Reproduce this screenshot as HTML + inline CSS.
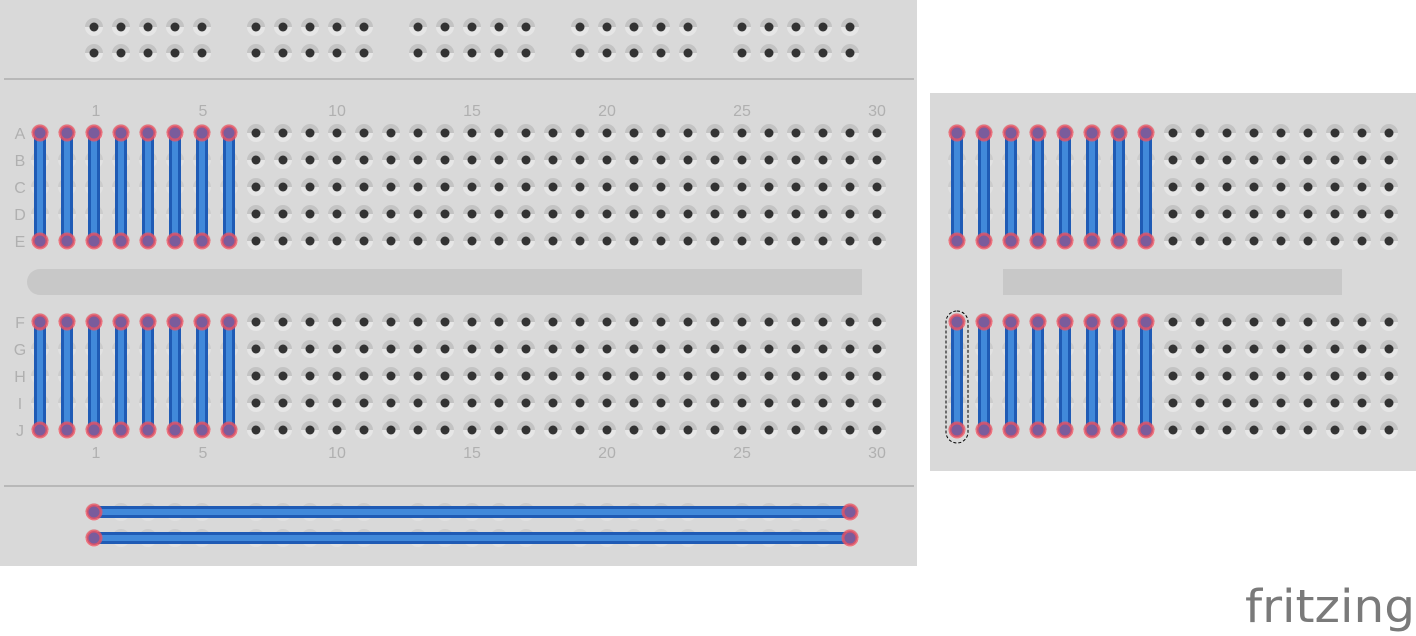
<!DOCTYPE html>
<html><head><meta charset="utf-8">
<style>
html,body{margin:0;padding:0;background:#fff;width:1416px;height:636px;overflow:hidden}
svg{display:block}
.lbl{font-family:"Liberation Sans",sans-serif;font-size:16px;fill:#b0b0b0}
</style></head><body>
<svg id="s" width="1416" height="636" viewBox="0 0 1416 636" xmlns="http://www.w3.org/2000/svg">
<defs>
<linearGradient id="hg" x1="0" y1="0" x2="0" y2="1">
<stop offset="0.5" stop-color="#c3c3c3"/><stop offset="0.5" stop-color="#e6e6e6"/>
</linearGradient>
<g id="h"><circle r="9" fill="url(#hg)"/><circle r="4.5" fill="#333"/></g>
<g id="hf"><circle r="9" fill="url(#hg)" opacity="0.6"/></g>
</defs>
<rect x="0" y="0" width="917" height="566" fill="#d9d9d9"/>
<rect x="4" y="78" width="910" height="2" fill="#b8b8b8"/>
<rect x="4" y="485" width="910" height="2" fill="#b8b8b8"/>
<path d="M40 269 H862 V295 H40 A13 13 0 0 1 40 269 Z" fill="#c8c8c8"/>
<rect x="930" y="93" width="486" height="378" fill="#d9d9d9"/>
<rect x="1003" y="269" width="339" height="26" fill="#c8c8c8"/>
<g class="lbl">
<text x="96" y="116" text-anchor="middle">1</text><text x="203" y="116" text-anchor="middle">5</text>
<text x="337" y="116" text-anchor="middle">10</text><text x="472" y="116" text-anchor="middle">15</text>
<text x="607" y="116" text-anchor="middle">20</text><text x="742" y="116" text-anchor="middle">25</text>
<text x="877" y="116" text-anchor="middle">30</text>
<text x="96" y="458" text-anchor="middle">1</text><text x="203" y="458" text-anchor="middle">5</text>
<text x="337" y="458" text-anchor="middle">10</text><text x="472" y="458" text-anchor="middle">15</text>
<text x="607" y="458" text-anchor="middle">20</text><text x="742" y="458" text-anchor="middle">25</text>
<text x="877" y="458" text-anchor="middle">30</text>
<text x="20" y="139" text-anchor="middle">A</text><text x="20" y="166" text-anchor="middle">B</text>
<text x="20" y="193" text-anchor="middle">C</text><text x="20" y="220" text-anchor="middle">D</text>
<text x="20" y="247" text-anchor="middle">E</text>
<text x="20" y="328" text-anchor="middle">F</text><text x="20" y="355" text-anchor="middle">G</text>
<text x="20" y="382" text-anchor="middle">H</text><text x="20" y="409" text-anchor="middle">I</text>
<text x="20" y="436" text-anchor="middle">J</text>
</g>
<g id="holes"></g>
<g id="wires"></g>
<rect x="946" y="311" width="22" height="132" rx="11" fill="none" stroke="#000" stroke-width="1" stroke-dasharray="3,2"/>
<text x="1245" y="622" textLength="170" lengthAdjust="spacingAndGlyphs" style="font-family:'DejaVu Sans','Liberation Sans',sans-serif;font-size:45px;fill:#7a7a7a">fritzing</text>
</svg>
<script>
var NS="http://www.w3.org/2000/svg",H=document.getElementById("holes"),W=document.getElementById("wires");
function hole(x,y,f){var u=document.createElementNS(NS,"use");u.setAttribute("href",f?"#hf":"#h");u.setAttribute("x",x);u.setAttribute("y",y);H.appendChild(u);}
var rows=[133,160,187,214,241,322,349,376,403,430];
for(var k=0;k<32;k++)rows.forEach(function(y){hole(40+27*k,y,k<8);});
for(var k=0;k<17;k++)rows.forEach(function(y){hole(957+27*k,y,k<8);});
for(var k=0;k<29;k++){if(k%6==5)continue;var x=94+27*k;hole(x,27);hole(x,53);hole(x,512,1);hole(x,538,1);}
function wire(x1,y1,x2,y2){
 var a=document.createElementNS(NS,"line");a.setAttribute("x1",x1);a.setAttribute("y1",y1);a.setAttribute("x2",x2);a.setAttribute("y2",y2);
 a.setAttribute("stroke","#1f5bb5");a.setAttribute("stroke-width","12");W.appendChild(a);
 var b=a.cloneNode();b.setAttribute("stroke","#4189da");b.setAttribute("stroke-width","6");W.appendChild(b);
 [[x1,y1],[x2,y2]].forEach(function(p){var c=document.createElementNS(NS,"circle");c.setAttribute("cx",p[0]);c.setAttribute("cy",p[1]);c.setAttribute("r","7");
 c.setAttribute("fill","#7a5c9c");c.setAttribute("stroke","#f0505e");c.setAttribute("stroke-width","3");c.setAttribute("stroke-opacity","0.75");W.appendChild(c);});
}
for(var k=0;k<8;k++){var x=40+27*k;wire(x,133,x,241);wire(x,322,x,430);var x2=957+27*k;wire(x2,133,x2,241);wire(x2,322,x2,430);}
wire(94,512,850,512);wire(94,538,850,538);
</script>
</body></html>
